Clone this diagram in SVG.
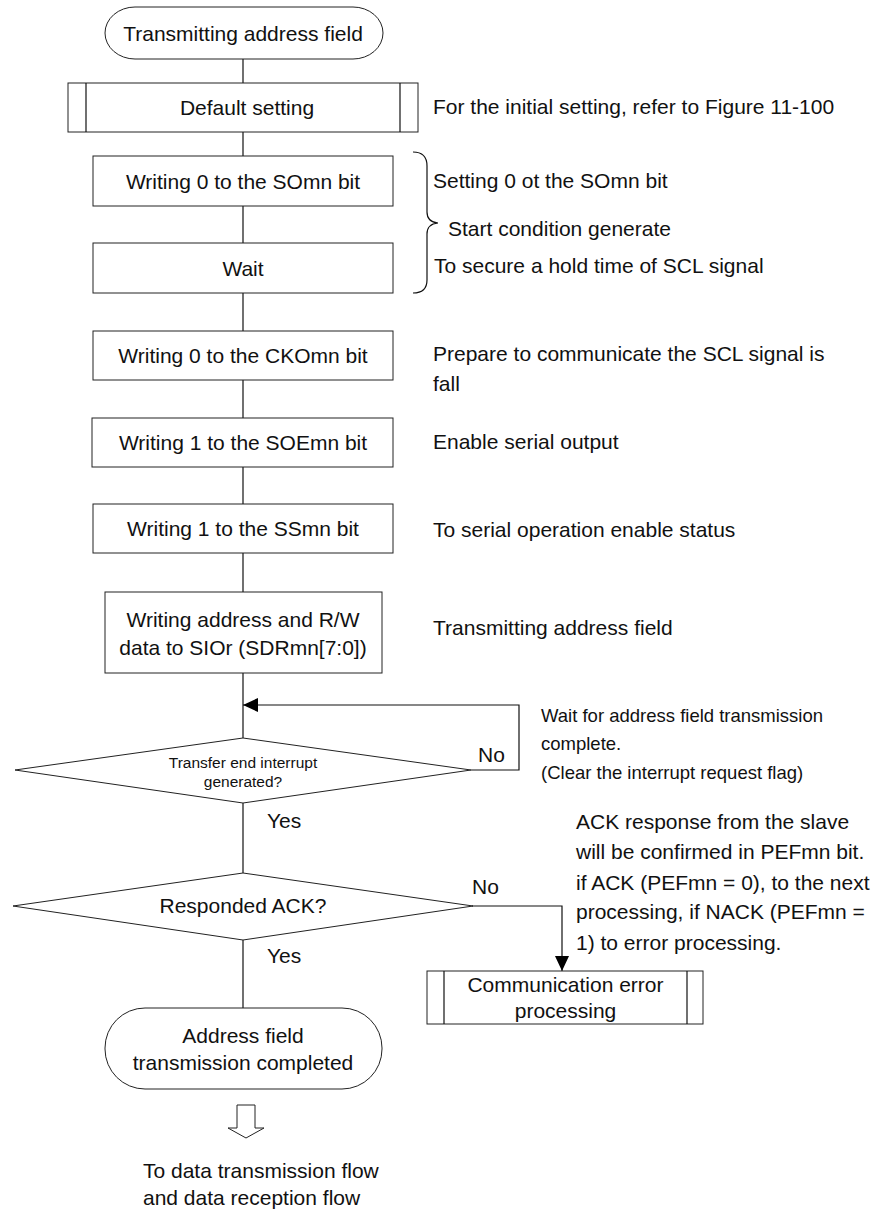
<svg xmlns="http://www.w3.org/2000/svg" width="880" height="1210" viewBox="0 0 880 1210">
<defs>
<style>
.s{fill:#fff;stroke:#222;stroke-width:1}
.l{fill:none;stroke:#111;stroke-width:1.2}
.t{font-family:"Liberation Sans",Arial,sans-serif;font-size:21px;fill:#111}
.c{text-anchor:middle}
.m{font-size:18.5px}
.d{font-size:15.5px}
</style>
<marker id="ah" markerWidth="16" markerHeight="14" refX="15" refY="7" orient="auto" markerUnits="userSpaceOnUse">
<path d="M0,0 L15,7 L0,14 Z" fill="#000"/>
</marker>
</defs>
<rect width="880" height="1210" fill="#fff"/>
<g id="connectors">
<line class="l" x1="243" y1="59" x2="243" y2="83"/>
<line class="l" x1="243" y1="132" x2="243" y2="156"/>
<line class="l" x1="243" y1="206" x2="243" y2="243"/>
<line class="l" x1="243" y1="293" x2="243" y2="331"/>
<line class="l" x1="243" y1="380" x2="243" y2="418"/>
<line class="l" x1="243" y1="467" x2="243" y2="504"/>
<line class="l" x1="243" y1="553" x2="243" y2="592"/>
<line class="l" x1="243" y1="673" x2="243" y2="738"/>
<line class="l" x1="243" y1="803" x2="243" y2="873"/>
<line class="l" x1="243" y1="940" x2="243" y2="1008"/>
<polyline class="l" points="471,770 519,770 519,705 243,705" marker-end="url(#ah)"/>
<polyline class="l" points="472,906 562,906 562,971" marker-end="url(#ah)"/>
<path class="l" d="M413,152 Q427,152 427,166 L427,212 Q427,222 438,223 Q427,224 427,234 L427,280 Q427,293 413,293"/>
<polygon points="237,1105 255,1105 255,1128 264,1128 246,1138 228,1128 237,1128" fill="#fff" stroke="#222" stroke-width="1"/>
</g>
<g id="start">
<rect class="s" x="105" y="7" width="278" height="52" rx="30" ry="26"/>
<text class="t c" x="243" y="40.5">Transmitting address field</text>
</g>
<g id="default">
<rect class="s" x="68" y="83" width="350" height="49"/>
<line class="l" x1="86" y1="83" x2="86" y2="132"/>
<line class="l" x1="400" y1="83" x2="400" y2="132"/>
<text class="t c" x="247" y="114.5">Default setting</text>
</g>
<g id="somn">
<rect class="s" x="93" y="156" width="300" height="50"/>
<text class="t c" x="243" y="188.5">Writing 0 to the SOmn bit</text>
</g>
<g id="wait">
<rect class="s" x="93" y="243" width="300" height="50"/>
<text class="t c" x="243" y="275.5">Wait</text>
</g>
<g id="ckomn">
<rect class="s" x="93" y="331" width="300" height="49"/>
<text class="t c" x="243" y="363">Writing 0 to the CKOmn bit</text>
</g>
<g id="soemn">
<rect class="s" x="92" y="418" width="301" height="49"/>
<text class="t c" x="243" y="450">Writing 1 to the SOEmn bit</text>
</g>
<g id="ssmn">
<rect class="s" x="93" y="504" width="300" height="49"/>
<text class="t c" x="243" y="536">Writing 1 to the SSmn bit</text>
</g>
<g id="sdr">
<rect class="s" x="105" y="592" width="277" height="81"/>
<text class="t c" x="243" y="626.5">Writing address and R/W</text>
<text class="t c" x="243" y="654.5">data to SIOr (SDRmn[7:0])</text>
</g>
<g id="dec1">
<polygon class="s" points="15,770 243,738 471,770 243,803"/>
<text class="t c d" x="243" y="767.5">Transfer end interrupt</text>
<text class="t c d" x="243" y="786.5">generated?</text>
</g>
<g id="dec2">
<polygon class="s" points="13,906 243,873 473,906 243,940"/>
<text class="t c" x="243" y="912.5">Responded ACK?</text>
</g>
<g id="comerr">
<rect class="s" x="427" y="971" width="276" height="53"/>
<line class="l" x1="444" y1="971" x2="444" y2="1024"/>
<line class="l" x1="687" y1="971" x2="687" y2="1024"/>
<text class="t c" x="565.5" y="991.5">Communication error</text>
<text class="t c" x="565.5" y="1017.5">processing</text>
</g>
<g id="end">
<rect class="s" x="105" y="1008" width="277" height="81" rx="40" ry="40"/>
<text class="t c" x="243" y="1042.5">Address field</text>
<text class="t c" x="243" y="1069.5">transmission completed</text>
</g>
<g id="labels">
<text class="t" x="478" y="761.5">No</text>
<text class="t" x="267" y="827.5">Yes</text>
<text class="t" x="472" y="893.5">No</text>
<text class="t" x="267" y="962.5">Yes</text>
</g>
<g id="notes">
<text class="t" x="433" y="113.5">For the initial setting, refer to Figure 11-100</text>
<text class="t" x="433" y="187.5">Setting 0 ot the SOmn bit</text>
<text class="t" x="448" y="235.5">Start condition generate</text>
<text class="t" x="434" y="272.5">To secure a hold time of SCL signal</text>
<text class="t" x="433" y="360.5">Prepare to communicate the SCL signal is</text>
<text class="t" x="433" y="390.5">fall</text>
<text class="t" x="433" y="448.5">Enable serial output</text>
<text class="t" x="433" y="536.5">To serial operation enable status</text>
<text class="t" x="433" y="634.5">Transmitting address field</text>
<text class="t m" x="541" y="721.5">Wait for address field transmission</text>
<text class="t m" x="541" y="749.5">complete.</text>
<text class="t m" x="541" y="778.5">(Clear the interrupt request flag)</text>
<text class="t" x="576" y="828.5">ACK response from the slave</text>
<text class="t" x="576" y="858.5">will be confirmed in PEFmn bit.</text>
<text class="t" x="576" y="889.5">if ACK (PEFmn = 0), to the next</text>
<text class="t" x="576" y="918.5">processing, if NACK (PEFmn =</text>
<text class="t" x="576" y="949.5">1) to error processing.</text>
<text class="t" x="143" y="1177.5">To data transmission flow</text>
<text class="t" x="143" y="1204.5">and data reception flow</text>
</g>
</svg>
